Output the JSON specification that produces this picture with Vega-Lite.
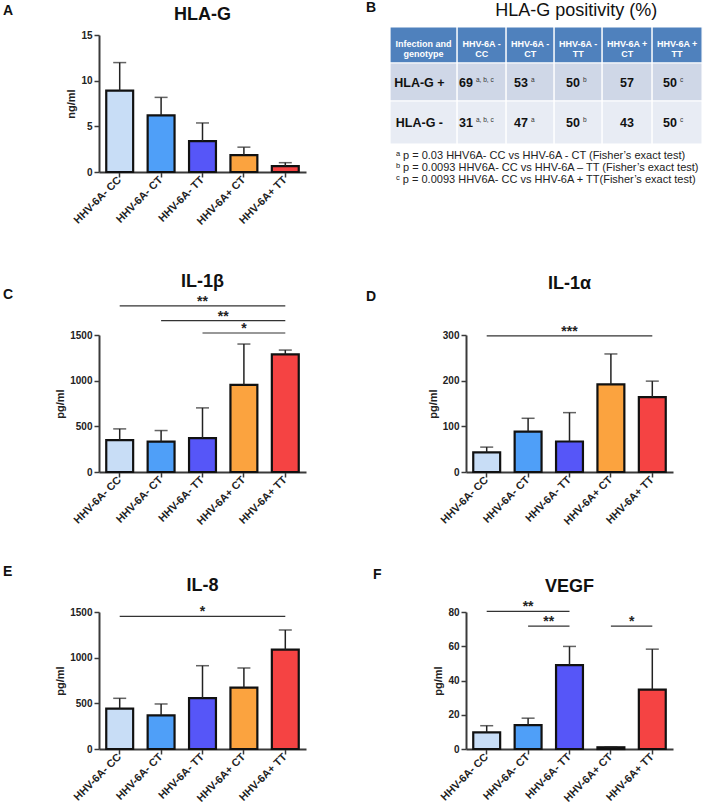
{
 "$schema": "https://vega.github.io/schema/vega-lite/v6.json",
 "background": "white",
 "padding": {"left": 3, "top": 1, "right": 0, "bottom": 0},
 "columns": 2,
 "spacing": {"row": 140, "column": 160},
 "bounds": "flush",
 "resolve": {"scale": {"fill": "independent"}},
 "config": {
  "view": {"stroke": null},
  "font": "Liberation Sans",
  "axis": {"domainColor": "#3a3a3a", "domainWidth": 2, "tickColor": "#3a3a3a", "tickWidth": 1.5, "tickSize": 5, "labelFont": "Liberation Sans", "labelFontWeight": "bold", "labelFontSize": 10, "labelColor": "#222", "titleFont": "Liberation Sans", "titleFontWeight": "bold", "titleFontSize": 11, "titleColor": "#222", "grid": false, "labelPadding": 2, "labelOverlap": false},
  "axisY": {"format": "d"},
  "axisX": {"labelFontSize": 10.8, "labelPadding": 1},
  "title": {"font": "Liberation Sans", "fontSize": 14, "fontWeight": "bold", "color": "#111", "anchor": "start", "frame": "group", "offset": 0, "baseline": "alphabetic"}
 },
 "datasets": {
  "bars": [
   {"panel": "A", "group": "HHV-6A- CC", "value": 8.9, "err": 11.98},
   {"panel": "A", "group": "HHV-6A- CT", "value": 6.21, "err": 8.17},
   {"panel": "A", "group": "HHV-6A- TT", "value": 3.38, "err": 5.37},
   {"panel": "A", "group": "HHV-6A+ CT", "value": 1.85, "err": 2.72},
   {"panel": "A", "group": "HHV-6A+ TT", "value": 0.65, "err": 1.02},
   {"panel": "C", "group": "HHV-6A- CC", "value": 348, "err": 472},
   {"panel": "C", "group": "HHV-6A- CT", "value": 333, "err": 454},
   {"panel": "C", "group": "HHV-6A- TT", "value": 370, "err": 702},
   {"panel": "C", "group": "HHV-6A+ CT", "value": 955, "err": 1401},
   {"panel": "C", "group": "HHV-6A+ TT", "value": 1288, "err": 1335},
   {"panel": "D", "group": "HHV-6A- CC", "value": 42.8, "err": 54.5},
   {"panel": "D", "group": "HHV-6A- CT", "value": 88.6, "err": 117.6},
   {"panel": "D", "group": "HHV-6A- TT", "value": 66.8, "err": 130},
   {"panel": "D", "group": "HHV-6A+ CT", "value": 191.7, "err": 258.5},
   {"panel": "D", "group": "HHV-6A+ TT", "value": 164, "err": 199},
   {"panel": "E", "group": "HHV-6A- CC", "value": 441, "err": 555},
   {"panel": "E", "group": "HHV-6A- CT", "value": 369, "err": 493},
   {"panel": "E", "group": "HHV-6A- TT", "value": 558, "err": 912},
   {"panel": "E", "group": "HHV-6A+ CT", "value": 672, "err": 887},
   {"panel": "E", "group": "HHV-6A+ TT", "value": 1088, "err": 1303},
   {"panel": "F", "group": "HHV-6A- CC", "value": 9.7, "err": 13.6},
   {"panel": "F", "group": "HHV-6A- CT", "value": 13.9, "err": 18.0},
   {"panel": "F", "group": "HHV-6A- TT", "value": 49.0, "err": 59.9},
   {"panel": "F", "group": "HHV-6A+ CT", "value": 1.0, "err": 1.2},
   {"panel": "F", "group": "HHV-6A+ TT", "value": 34.7, "err": 58.3}
  ],
  "names": [
   {"panel": "A", "label": "HLA-G"},
   {"panel": "B", "label": "HLA-G positivity (%)"},
   {"panel": "C", "label": "IL-1β"},
   {"panel": "D", "label": "IL-1α"},
   {"panel": "E", "label": "IL-8"},
   {"panel": "F", "label": "VEGF"}
  ],
  "sig": [
   {"panel": "C", "from": "HHV-6A- CC", "to": "HHV-6A+ TT", "y": 1818, "label": "**", "mid": "HHV-6A- TT", "half": false},
   {"panel": "C", "from": "HHV-6A- CT", "to": "HHV-6A+ TT", "y": 1657, "label": "**", "mid": "HHV-6A- TT", "half": true},
   {"panel": "C", "from": "HHV-6A- TT", "to": "HHV-6A+ TT", "y": 1522, "label": "*", "mid": "HHV-6A+ CT", "half": false},
   {"panel": "D", "from": "HHV-6A- CC", "to": "HHV-6A+ TT", "y": 298, "label": "***", "mid": "HHV-6A- TT", "half": false},
   {"panel": "E", "from": "HHV-6A- CC", "to": "HHV-6A+ TT", "y": 1453, "label": "*", "mid": "HHV-6A- TT", "half": false},
   {"panel": "F", "from": "HHV-6A- CC", "to": "HHV-6A- TT", "y": 80.4, "label": "**", "mid": "HHV-6A- CT", "half": false},
   {"panel": "F", "from": "HHV-6A- CT", "to": "HHV-6A- TT", "y": 71.8, "label": "**", "mid": "HHV-6A- CT", "half": true},
   {"panel": "F", "from": "HHV-6A+ CT", "to": "HHV-6A+ TT", "y": 71.8, "label": "*", "mid": "HHV-6A+ CT", "half": true}
  ],
  "tcells": [
   {"r": "h", "x0": 0, "x1": 1.37, "y0": 0, "y1": 0.9},
   {"r": "h", "x0": 1.37, "x1": 2.37, "y0": 0, "y1": 0.9},
   {"r": "h", "x0": 2.37, "x1": 3.35, "y0": 0, "y1": 0.9},
   {"r": "h", "x0": 3.35, "x1": 4.33, "y0": 0, "y1": 0.9},
   {"r": "h", "x0": 4.33, "x1": 5.35, "y0": 0, "y1": 0.9},
   {"r": "h", "x0": 5.35, "x1": 6.37, "y0": 0, "y1": 0.9},
   {"r": "p", "x0": 0, "x1": 1.37, "y0": 0.9, "y1": 1.85},
   {"r": "p", "x0": 1.37, "x1": 2.37, "y0": 0.9, "y1": 1.85},
   {"r": "p", "x0": 2.37, "x1": 3.35, "y0": 0.9, "y1": 1.85},
   {"r": "p", "x0": 3.35, "x1": 4.33, "y0": 0.9, "y1": 1.85},
   {"r": "p", "x0": 4.33, "x1": 5.35, "y0": 0.9, "y1": 1.85},
   {"r": "p", "x0": 5.35, "x1": 6.37, "y0": 0.9, "y1": 1.85},
   {"r": "n", "x0": 0, "x1": 1.37, "y0": 1.85, "y1": 2.925},
   {"r": "n", "x0": 1.37, "x1": 2.37, "y0": 1.85, "y1": 2.925},
   {"r": "n", "x0": 2.37, "x1": 3.35, "y0": 1.85, "y1": 2.925},
   {"r": "n", "x0": 3.35, "x1": 4.33, "y0": 1.85, "y1": 2.925},
   {"r": "n", "x0": 4.33, "x1": 5.35, "y0": 1.85, "y1": 2.925},
   {"r": "n", "x0": 5.35, "x1": 6.37, "y0": 1.85, "y1": 2.925}
  ],
  "ttext": [
   {"kind": "head", "xc": 0.685, "yc": 0.43, "t": "Infection and\ngenotype", "sup": ""},
   {"kind": "head", "xc": 1.87, "yc": 0.43, "t": "HHV-6A -\nCC", "sup": ""},
   {"kind": "head", "xc": 2.86, "yc": 0.43, "t": "HHV-6A -\nCT", "sup": ""},
   {"kind": "head", "xc": 3.84, "yc": 0.43, "t": "HHV-6A -\nTT", "sup": ""},
   {"kind": "head", "xc": 4.84, "yc": 0.43, "t": "HHV-6A +\nCT", "sup": ""},
   {"kind": "head", "xc": 5.86, "yc": 0.43, "t": "HHV-6A +\nTT", "sup": ""},
   {"kind": "label", "xc": 0.6, "yc": 1.39, "t": "HLA-G +", "sup": ""},
   {"kind": "label", "xc": 0.6, "yc": 2.39, "t": "HLA-G -", "sup": ""},
   {"kind": "num", "xc": 1.694, "yc": 1.39, "t": "69", "sup": "a, b, c"},
   {"kind": "num", "xc": 2.816, "yc": 1.39, "t": "53", "sup": "a"},
   {"kind": "num", "xc": 3.878, "yc": 1.39, "t": "50", "sup": "b"},
   {"kind": "num", "xc": 4.98, "yc": 1.39, "t": "57", "sup": ""},
   {"kind": "num", "xc": 5.857, "yc": 1.39, "t": "50", "sup": "c"},
   {"kind": "num", "xc": 1.694, "yc": 2.39, "t": "31", "sup": "a, b, c"},
   {"kind": "num", "xc": 2.816, "yc": 2.39, "t": "47", "sup": "a"},
   {"kind": "num", "xc": 3.878, "yc": 2.39, "t": "50", "sup": "b"},
   {"kind": "num", "xc": 4.98, "yc": 2.39, "t": "43", "sup": ""},
   {"kind": "num", "xc": 5.857, "yc": 2.39, "t": "50", "sup": "c"}
  ],
  "notes": [
   {"t": "ᵃ p = 0.03 HHV6A- CC vs HHV-6A - CT (Fisher’s exact test)", "yn": 3.225},
   {"t": "ᵇ p = 0.0093 HHV6A- CC vs HHV-6A – TT (Fisher’s exact test)", "yn": 3.525},
   {"t": "ᶜ p = 0.0093 HHV6A- CC vs HHV-6A + TT(Fisher’s exact test)", "yn": 3.825}
  ]
 },
 "concat": [
  {
   "width": 207, "height": 137,
   "title": {"text": "A", "dx": -96, "dy": 16},
   "data": {"name": "bars"},
   "transform": [{"filter": "datum.panel === 'A'"}],
   "layer": [
    {"mark": {"type": "bar", "stroke": "#111", "strokeWidth": 2.2},
     "encoding": {
      "x": {"field": "group", "type": "nominal", "scale": {"domain": ["HHV-6A- CC", "HHV-6A- CT", "HHV-6A- TT", "HHV-6A+ CT", "HHV-6A+ TT"], "paddingInner": 0.35, "paddingOuter": 0.175}, "axis": {"title": null, "labelAngle": -45, "labelAlign": "right", "labelBaseline": "middle"}},
      "y": {"field": "value", "type": "quantitative", "scale": {"domain": [0, 15], "nice": false}, "axis": {"values": [0, 5, 10, 15], "title": "ng/ml", "labelOverlap": false}},
      "fill": {"field": "group", "type": "nominal", "scale": {"domain": ["HHV-6A- CC", "HHV-6A- CT", "HHV-6A- TT", "HHV-6A+ CT", "HHV-6A+ TT"], "range": ["#c8ddf6", "#4f9ff8", "#5656f8", "#fba33f", "#f54343"]}, "legend": null}
     }},
    {"mark": {"type": "rule", "color": "#222", "strokeWidth": 1.5},
     "encoding": {"x": {"field": "group", "type": "nominal", "bandPosition": 0.5}, "y": {"field": "value", "type": "quantitative"}, "y2": {"field": "err"}}},
    {"mark": {"type": "tick", "color": "#222", "thickness": 1.5, "size": 13},
     "encoding": {"x": {"field": "group", "type": "nominal", "bandPosition": 0.5}, "y": {"field": "err", "type": "quantitative"}}},
    {"data": {"name": "names"}, "transform": [{"filter": "datum.panel === 'A'"}],
     "mark": {"type": "text", "fontSize": 18, "fontWeight": "bold", "baseline": "alphabetic", "align": "center", "color": "#111"},
     "encoding": {"y": {"datum": 16.64, "type": "quantitative"}, "text": {"field": "label"}}}
   ]
  },
  {
   "width": 207, "height": 137,
   "title": {"text": "B", "dx": -100, "dy": 17},
   "layer": [
    {"data": {"name": "tcells"},
     "mark": {"type": "rect", "stroke": "white", "strokeWidth": 1.2},
     "encoding": {
      "x": {"field": "x0", "type": "quantitative", "scale": {"domain": [1.551, 5.776], "zero": false, "nice": false}, "axis": null},
      "x2": {"field": "x1"},
      "y": {"field": "y0", "type": "quantitative", "scale": {"domain": [0.2, 3.625], "zero": false, "nice": false, "reverse": true}, "axis": null},
      "y2": {"field": "y1"},
      "fill": {"field": "r", "type": "nominal", "scale": {"domain": ["h", "p", "n"], "range": ["#4f81bd", "#cfd7e7", "#e8ecf4"]}, "legend": null}
     }},
    {"data": {"name": "ttext"}, "transform": [{"filter": "datum.kind === 'head'"}],
     "mark": {"type": "text", "color": "white", "fontSize": 9, "fontWeight": "bold", "lineBreak": "\n", "lineHeight": 10, "baseline": "middle", "align": "center"},
     "encoding": {"x": {"field": "xc", "type": "quantitative"}, "y": {"field": "yc", "type": "quantitative"}, "text": {"field": "t"}}},
    {"data": {"name": "ttext"}, "transform": [{"filter": "datum.kind === 'label'"}],
     "mark": {"type": "text", "color": "#111", "fontSize": 12.5, "fontWeight": "bold", "baseline": "middle", "align": "center"},
     "encoding": {"x": {"field": "xc", "type": "quantitative"}, "y": {"field": "yc", "type": "quantitative"}, "text": {"field": "t"}}},
    {"data": {"name": "ttext"}, "transform": [{"filter": "datum.kind === 'num'"}],
     "mark": {"type": "text", "color": "#111", "fontSize": 12.5, "fontWeight": "bold", "baseline": "middle", "align": "right"},
     "encoding": {"x": {"field": "xc", "type": "quantitative"}, "y": {"field": "yc", "type": "quantitative"}, "text": {"field": "t"}}},
    {"data": {"name": "ttext"}, "transform": [{"filter": "datum.kind === 'num'"}],
     "mark": {"type": "text", "color": "#333", "fontSize": 6.5, "baseline": "middle", "align": "left", "dx": 3, "dy": -3},
     "encoding": {"x": {"field": "xc", "type": "quantitative"}, "y": {"field": "yc", "type": "quantitative"}, "text": {"field": "sup"}}},
    {"data": {"name": "notes"},
     "mark": {"type": "text", "color": "#222", "fontSize": 11, "baseline": "middle", "align": "left"},
     "encoding": {"x": {"datum": 0.12, "type": "quantitative"}, "y": {"field": "yn", "type": "quantitative"}, "text": {"field": "t"}}},
    {"data": {"name": "names"}, "transform": [{"filter": "datum.panel === 'B'"}],
     "mark": {"type": "text", "fontSize": 18, "baseline": "alphabetic", "align": "center", "color": "#111"},
     "encoding": {"x": {"datum": 3.8, "type": "quantitative"}, "y": {"datum": -0.275, "type": "quantitative"}, "text": {"field": "label"}}}
   ]
  },
  {
   "width": 207, "height": 160,
   "title": {"text": "C", "dx": -96, "dy": 33},
   "data": {"name": "bars"},
   "transform": [{"filter": "datum.panel === 'C'"}],
   "layer": [
    {"mark": {"type": "bar", "stroke": "#111", "strokeWidth": 2.2},
     "encoding": {
      "x": {"field": "group", "type": "nominal", "scale": {"domain": ["HHV-6A- CC", "HHV-6A- CT", "HHV-6A- TT", "HHV-6A+ CT", "HHV-6A+ TT"], "paddingInner": 0.35, "paddingOuter": 0.175}, "axis": {"title": null, "labelAngle": -45, "labelAlign": "right", "labelBaseline": "middle"}},
      "y": {"field": "value", "type": "quantitative", "scale": {"domain": [0, 1500], "nice": false, "range": [160, 23]}, "axis": {"values": [0, 500, 1000, 1500], "title": "pg/ml", "labelOverlap": false}},
      "fill": {"field": "group", "type": "nominal", "scale": {"domain": ["HHV-6A- CC", "HHV-6A- CT", "HHV-6A- TT", "HHV-6A+ CT", "HHV-6A+ TT"], "range": ["#c8ddf6", "#4f9ff8", "#5656f8", "#fba33f", "#f54343"]}, "legend": null}
     }},
    {"mark": {"type": "rule", "color": "#222", "strokeWidth": 1.5},
     "encoding": {"x": {"field": "group", "type": "nominal", "bandPosition": 0.5}, "y": {"field": "value", "type": "quantitative"}, "y2": {"field": "err"}}},
    {"mark": {"type": "tick", "color": "#222", "thickness": 1.5, "size": 13},
     "encoding": {"x": {"field": "group", "type": "nominal", "bandPosition": 0.5}, "y": {"field": "err", "type": "quantitative"}}},
    {"data": {"name": "sig"}, "transform": [{"filter": "datum.panel === 'C'"}],
     "mark": {"type": "rule", "color": "#333", "strokeWidth": 1.2},
     "encoding": {"x": {"field": "from", "type": "nominal", "bandPosition": 0.5}, "x2": {"field": "to", "bandPosition": 0.5}, "y": {"field": "y", "type": "quantitative"}}},
    {"data": {"name": "sig"}, "transform": [{"filter": "datum.panel === 'C' && !datum.half"}],
     "mark": {"type": "text", "fontSize": 14, "fontWeight": "bold", "baseline": "alphabetic", "align": "center", "color": "#222"},
     "encoding": {"x": {"field": "mid", "type": "nominal", "bandPosition": 0.5}, "y": {"field": "y", "type": "quantitative"}, "text": {"field": "label"}}},
    {"data": {"name": "sig"}, "transform": [{"filter": "datum.panel === 'C' && datum.half"}],
     "mark": {"type": "text", "fontSize": 14, "fontWeight": "bold", "baseline": "alphabetic", "align": "center", "color": "#222"},
     "encoding": {"x": {"field": "mid", "type": "nominal", "bandPosition": 1.27}, "y": {"field": "y", "type": "quantitative"}, "text": {"field": "label"}}},
    {"data": {"name": "names"}, "transform": [{"filter": "datum.panel === 'C'"}],
     "mark": {"type": "text", "fontSize": 18, "fontWeight": "bold", "baseline": "alphabetic", "align": "center", "color": "#111"},
     "encoding": {"y": {"datum": 2026, "type": "quantitative"}, "text": {"field": "label"}}}
   ]
  },
  {
   "width": 207, "height": 160,
   "title": {"text": "D", "dx": -100, "dy": 33},
   "data": {"name": "bars"},
   "transform": [{"filter": "datum.panel === 'D'"}],
   "layer": [
    {"mark": {"type": "bar", "stroke": "#111", "strokeWidth": 2.2},
     "encoding": {
      "x": {"field": "group", "type": "nominal", "scale": {"domain": ["HHV-6A- CC", "HHV-6A- CT", "HHV-6A- TT", "HHV-6A+ CT", "HHV-6A+ TT"], "paddingInner": 0.35, "paddingOuter": 0.175}, "axis": {"title": null, "labelAngle": -45, "labelAlign": "right", "labelBaseline": "middle"}},
      "y": {"field": "value", "type": "quantitative", "scale": {"domain": [0, 300], "nice": false, "range": [160, 23]}, "axis": {"values": [0, 100, 200, 300], "title": "pg/ml", "labelOverlap": false}},
      "fill": {"field": "group", "type": "nominal", "scale": {"domain": ["HHV-6A- CC", "HHV-6A- CT", "HHV-6A- TT", "HHV-6A+ CT", "HHV-6A+ TT"], "range": ["#c8ddf6", "#4f9ff8", "#5656f8", "#fba33f", "#f54343"]}, "legend": null}
     }},
    {"mark": {"type": "rule", "color": "#222", "strokeWidth": 1.5},
     "encoding": {"x": {"field": "group", "type": "nominal", "bandPosition": 0.5}, "y": {"field": "value", "type": "quantitative"}, "y2": {"field": "err"}}},
    {"mark": {"type": "tick", "color": "#222", "thickness": 1.5, "size": 13},
     "encoding": {"x": {"field": "group", "type": "nominal", "bandPosition": 0.5}, "y": {"field": "err", "type": "quantitative"}}},
    {"data": {"name": "sig"}, "transform": [{"filter": "datum.panel === 'D'"}],
     "mark": {"type": "rule", "color": "#333", "strokeWidth": 1.2},
     "encoding": {"x": {"field": "from", "type": "nominal", "bandPosition": 0.5}, "x2": {"field": "to", "bandPosition": 0.5}, "y": {"field": "y", "type": "quantitative"}}},
    {"data": {"name": "sig"}, "transform": [{"filter": "datum.panel === 'D'"}],
     "mark": {"type": "text", "fontSize": 14, "fontWeight": "bold", "baseline": "alphabetic", "align": "center", "color": "#222"},
     "encoding": {"x": {"field": "mid", "type": "nominal", "bandPosition": 0.5}, "y": {"field": "y", "type": "quantitative"}, "text": {"field": "label"}}},
    {"data": {"name": "names"}, "transform": [{"filter": "datum.panel === 'D'"}],
     "mark": {"type": "text", "fontSize": 18, "fontWeight": "bold", "baseline": "alphabetic", "align": "center", "color": "#111"},
     "encoding": {"y": {"datum": 400.7, "type": "quantitative"}, "text": {"field": "label"}}}
   ]
  },
  {
   "width": 207, "height": 137,
   "title": {"text": "E", "dx": -96, "dy": 6},
   "data": {"name": "bars"},
   "transform": [{"filter": "datum.panel === 'E'"}],
   "layer": [
    {"mark": {"type": "bar", "stroke": "#111", "strokeWidth": 2.2},
     "encoding": {
      "x": {"field": "group", "type": "nominal", "scale": {"domain": ["HHV-6A- CC", "HHV-6A- CT", "HHV-6A- TT", "HHV-6A+ CT", "HHV-6A+ TT"], "paddingInner": 0.35, "paddingOuter": 0.175}, "axis": {"title": null, "labelAngle": -45, "labelAlign": "right", "labelBaseline": "middle"}},
      "y": {"field": "value", "type": "quantitative", "scale": {"domain": [0, 1500], "nice": false}, "axis": {"values": [0, 500, 1000, 1500], "title": "pg/ml", "labelOverlap": false}},
      "fill": {"field": "group", "type": "nominal", "scale": {"domain": ["HHV-6A- CC", "HHV-6A- CT", "HHV-6A- TT", "HHV-6A+ CT", "HHV-6A+ TT"], "range": ["#c8ddf6", "#4f9ff8", "#5656f8", "#fba33f", "#f54343"]}, "legend": null}
     }},
    {"mark": {"type": "rule", "color": "#222", "strokeWidth": 1.5},
     "encoding": {"x": {"field": "group", "type": "nominal", "bandPosition": 0.5}, "y": {"field": "value", "type": "quantitative"}, "y2": {"field": "err"}}},
    {"mark": {"type": "tick", "color": "#222", "thickness": 1.5, "size": 13},
     "encoding": {"x": {"field": "group", "type": "nominal", "bandPosition": 0.5}, "y": {"field": "err", "type": "quantitative"}}},
    {"data": {"name": "sig"}, "transform": [{"filter": "datum.panel === 'E'"}],
     "mark": {"type": "rule", "color": "#333", "strokeWidth": 1.2},
     "encoding": {"x": {"field": "from", "type": "nominal", "bandPosition": 0.5}, "x2": {"field": "to", "bandPosition": 0.5}, "y": {"field": "y", "type": "quantitative"}}},
    {"data": {"name": "sig"}, "transform": [{"filter": "datum.panel === 'E'"}],
     "mark": {"type": "text", "fontSize": 14, "fontWeight": "bold", "baseline": "alphabetic", "align": "center", "color": "#222"},
     "encoding": {"x": {"field": "mid", "type": "nominal", "bandPosition": 0.5}, "y": {"field": "y", "type": "quantitative"}, "text": {"field": "label"}}},
    {"data": {"name": "names"}, "transform": [{"filter": "datum.panel === 'E'"}],
     "mark": {"type": "text", "fontSize": 18, "fontWeight": "bold", "baseline": "alphabetic", "align": "center", "color": "#111"},
     "encoding": {"y": {"datum": 1730, "type": "quantitative"}, "text": {"field": "label"}}}
   ]
  },
  {
   "width": 207, "height": 137,
   "title": {"text": "F", "dx": -93, "dy": 8},
   "data": {"name": "bars"},
   "transform": [{"filter": "datum.panel === 'F'"}],
   "layer": [
    {"mark": {"type": "bar", "stroke": "#111", "strokeWidth": 2.2},
     "encoding": {
      "x": {"field": "group", "type": "nominal", "scale": {"domain": ["HHV-6A- CC", "HHV-6A- CT", "HHV-6A- TT", "HHV-6A+ CT", "HHV-6A+ TT"], "paddingInner": 0.35, "paddingOuter": 0.175}, "axis": {"title": null, "labelAngle": -45, "labelAlign": "right", "labelBaseline": "middle"}},
      "y": {"field": "value", "type": "quantitative", "scale": {"domain": [0, 80], "nice": false}, "axis": {"values": [0, 20, 40, 60, 80], "tickCount": 5, "title": "pg/ml", "labelOverlap": false}},
      "fill": {"field": "group", "type": "nominal", "scale": {"domain": ["HHV-6A- CC", "HHV-6A- CT", "HHV-6A- TT", "HHV-6A+ CT", "HHV-6A+ TT"], "range": ["#c8ddf6", "#4f9ff8", "#5656f8", "#fba33f", "#f54343"]}, "legend": null}
     }},
    {"mark": {"type": "rule", "color": "#222", "strokeWidth": 1.5},
     "encoding": {"x": {"field": "group", "type": "nominal", "bandPosition": 0.5}, "y": {"field": "value", "type": "quantitative"}, "y2": {"field": "err"}}},
    {"mark": {"type": "tick", "color": "#222", "thickness": 1.5, "size": 13},
     "encoding": {"x": {"field": "group", "type": "nominal", "bandPosition": 0.5}, "y": {"field": "err", "type": "quantitative"}}},
    {"data": {"name": "sig"}, "transform": [{"filter": "datum.panel === 'F'"}],
     "mark": {"type": "rule", "color": "#333", "strokeWidth": 1.2},
     "encoding": {"x": {"field": "from", "type": "nominal", "bandPosition": 0.5}, "x2": {"field": "to", "bandPosition": 0.5}, "y": {"field": "y", "type": "quantitative"}}},
    {"data": {"name": "sig"}, "transform": [{"filter": "datum.panel === 'F' && !datum.half"}],
     "mark": {"type": "text", "fontSize": 14, "fontWeight": "bold", "baseline": "alphabetic", "align": "center", "color": "#222"},
     "encoding": {"x": {"field": "mid", "type": "nominal", "bandPosition": 0.5}, "y": {"field": "y", "type": "quantitative"}, "text": {"field": "label"}}},
    {"data": {"name": "sig"}, "transform": [{"filter": "datum.panel === 'F' && datum.half"}],
     "mark": {"type": "text", "fontSize": 14, "fontWeight": "bold", "baseline": "alphabetic", "align": "center", "color": "#222"},
     "encoding": {"x": {"field": "mid", "type": "nominal", "bandPosition": 1.27}, "y": {"field": "y", "type": "quantitative"}, "text": {"field": "label"}}},
    {"data": {"name": "names"}, "transform": [{"filter": "datum.panel === 'F'"}],
     "mark": {"type": "text", "fontSize": 18, "fontWeight": "bold", "baseline": "alphabetic", "align": "center", "color": "#111"},
     "encoding": {"y": {"datum": 91.6, "type": "quantitative"}, "text": {"field": "label"}}}
   ]
  }
 ]
}
